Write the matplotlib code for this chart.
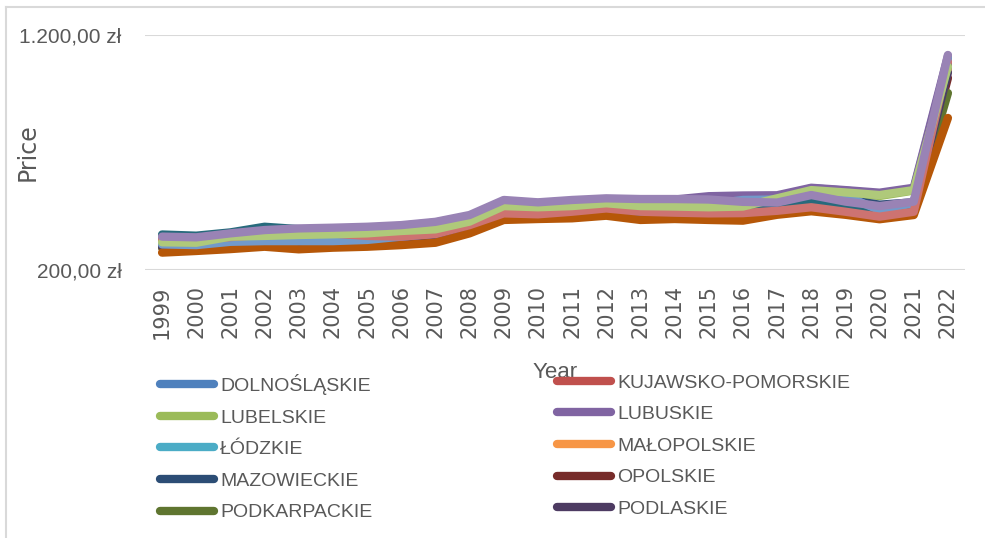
import matplotlib
matplotlib.use("Agg")
import matplotlib.pyplot as plt
from matplotlib.lines import Line2D

years = list(range(1999, 2023))

regions = ["DOLNOŚLĄSKIE", "KUJAWSKO-POMORSKIE", "LUBELSKIE", "LUBUSKIE", "ŁÓDZKIE",
           "MAŁOPOLSKIE", "MAZOWIECKIE", "OPOLSKIE", "PODKARPACKIE", "PODLASKIE",
           "POMORSKIE", "ŚLĄSKIE", "ŚWIĘTOKRZYSKIE", "WARMIŃSKO-MAZURSKIE",
           "WIELKOPOLSKIE", "ZACHODNIOPOMORSKIE"]

colors = ["#4F81BD", "#C0504D", "#9BBB59", "#8064A2", "#4BACC6", "#F79646",
          "#2C4D75", "#772C2A", "#5F7530", "#4D3B62", "#276A7C", "#B65708",
          "#729ACA", "#CD7371", "#AFC97A", "#9983B5"]

dolnoslaskie = [310, 308, 322, 325, 325, 326, 330, 344, 358, 398, 465, 460, 465, 475, 468, 470, 482, 500, 505, 548, 538, 524, 544, 1100]
kujawsko_pomorskie = [325, 322, 335, 345, 348, 350, 342, 345, 356, 388, 438, 434, 446, 458, 446, 442, 440, 440, 450, 465, 446, 426, 446, 1080]
lubelskie = [316, 314, 340, 343, 347, 350, 354, 364, 371, 404, 470, 465, 470, 482, 470, 468, 465, 468, 500, 538, 528, 515, 538, 1060]
lubuskie = [338, 335, 352, 366, 372, 376, 380, 388, 402, 430, 494, 485, 494, 500, 498, 500, 514, 517, 518, 550, 540, 529, 550, 1110]
lodzkie = [315, 312, 326, 332, 335, 338, 342, 350, 362, 398, 460, 455, 460, 470, 460, 458, 460, 470, 480, 510, 495, 465, 480, 1100]
malopolskie = [320, 318, 330, 340, 342, 345, 348, 355, 365, 400, 455, 452, 458, 468, 458, 455, 455, 452, 462, 480, 468, 440, 460, 1060]
mazowieckie = [335, 332, 345, 365, 360, 362, 365, 372, 385, 415, 470, 465, 470, 478, 468, 468, 472, 478, 488, 515, 500, 478, 488, 1090]
opolskie = [296, 295, 307, 318, 315, 318, 322, 332, 348, 384, 438, 435, 442, 452, 438, 437, 436, 438, 452, 472, 458, 444, 458, 1017]
podkarpackie = [295, 293, 305, 315, 312, 315, 320, 330, 345, 380, 435, 432, 440, 448, 440, 438, 435, 435, 450, 470, 455, 440, 455, 953]
podlaskie = [300, 298, 310, 320, 318, 320, 325, 335, 350, 385, 440, 437, 445, 450, 434, 434, 440, 445, 455, 475, 460, 448, 460, 1040]
pomorskie = [351, 346, 360, 384, 374, 370, 372, 375, 385, 415, 470, 465, 468, 475, 445, 450, 455, 465, 470, 495, 480, 460, 470, 1070]
slaskie = [274, 281, 289, 299, 288, 295, 299, 306, 316, 356, 413, 417, 420, 431, 413, 417, 413, 410, 435, 450, 435, 416, 434, 847]
swietokrzyskie = [309, 306, 320, 323, 323, 323, 328, 342, 355, 395, 462, 458, 462, 470, 465, 468, 480, 498, 500, 530, 515, 455, 484, 1094]
warminsko_mazurskie = [330, 328, 340, 350, 352, 355, 345, 342, 353, 391, 441, 437, 448, 462, 448, 444, 441, 442, 452, 467, 448, 427, 448, 1085]
wielkopolskie = [318, 316, 342, 345, 349, 352, 356, 366, 373, 406, 472, 467, 472, 484, 472, 470, 467, 470, 505, 540, 530, 519, 540, 1065]
zachodniopomorskie = [342, 339, 356, 370, 377, 380, 384, 391, 405, 434, 498, 488, 498, 505, 502, 502, 500, 490, 487, 519, 491, 472, 491, 1115]

series = [dolnoslaskie, kujawsko_pomorskie, lubelskie, lubuskie, lodzkie, malopolskie,
          mazowieckie, opolskie, podkarpackie, podlaskie, pomorskie, slaskie,
          swietokrzyskie, warminsko_mazurskie, wielkopolskie, zachodniopomorskie]

y_ticks = [200, 1200]
y_tick_labels = ["200,00 zł", "1.200,00 zł"]

GRAY = "#595959"
SANS = ["Liberation Sans", "DejaVu Sans"]

fig = plt.figure(figsize=(9.85, 5.38), dpi=100)
W, H = 985, 538
ax = fig.add_axes([145 / W, 1 - 270 / H, (965 - 145) / W, (270 - 35) / H])

handles = []
for name, col, vals in zip(regions, colors, series):
    ln, = ax.plot(years, vals, color=col, lw=6, solid_capstyle="round",
                  solid_joinstyle="round", label=name)
    handles.append(ln)

ax.set_xlim(1998.5, 2022.5)
ax.set_ylim(200, 1200)
ax.set_yticks(y_ticks)
ax.set_yticklabels(y_tick_labels, family=SANS, fontsize=15, color=GRAY)
ax.set_xticks(years)
ax.set_xticklabels([str(y) for y in years], rotation=90, fontsize=15, color=GRAY)
ax.tick_params(axis="y", length=0, pad=17)
ax.tick_params(axis="x", length=0, pad=11)
ax.grid(axis="y", color="#d9d9d9", lw=1.5)
ax.set_axisbelow(True)
for s in ax.spines.values():
    s.set_visible(False)

fig.text(28 / W, 1 - 152 / H, "Price", rotation=90, ha="center", va="center",
         fontsize=17, color=GRAY)
fig.text(555 / W, 1 - 372 / H, "Year", ha="center", va="center",
         family=SANS, fontsize=16, color=GRAY)

col1 = [0, 2, 4, 6, 8]
col2 = [1, 3, 5, 7, 9]
fs = 14
leg_kw = dict(loc="upper left", frameon=False, handlelength=2.8,
              handletextpad=0.3, labelspacing=0.72, borderpad=0, borderaxespad=0,
              labelcolor=GRAY, prop={"family": SANS, "size": fs})
leg1 = fig.legend([handles[i] for i in col1], [regions[i] for i in col1],
                  bbox_to_anchor=(160 / W, 1 - 374 / H), **leg_kw)
leg2 = fig.legend([handles[i] for i in col2], [regions[i] for i in col2],
                  bbox_to_anchor=(557 / W, 1 - 374 / H), **leg_kw)
for lg in (leg1, leg2):
    for lh in lg.get_lines():
        lh.set_linewidth(6)

fig.add_artist(Line2D([6 / W, 1], [1 - 7 / H, 1 - 7 / H], color="#d9d9d9", lw=1.5,
                      transform=fig.transFigure))
fig.add_artist(Line2D([6 / W, 6 / W], [0, 1 - 7 / H], color="#d9d9d9", lw=1.5,
                      transform=fig.transFigure))

fig.savefig("out.png", dpi=100)
